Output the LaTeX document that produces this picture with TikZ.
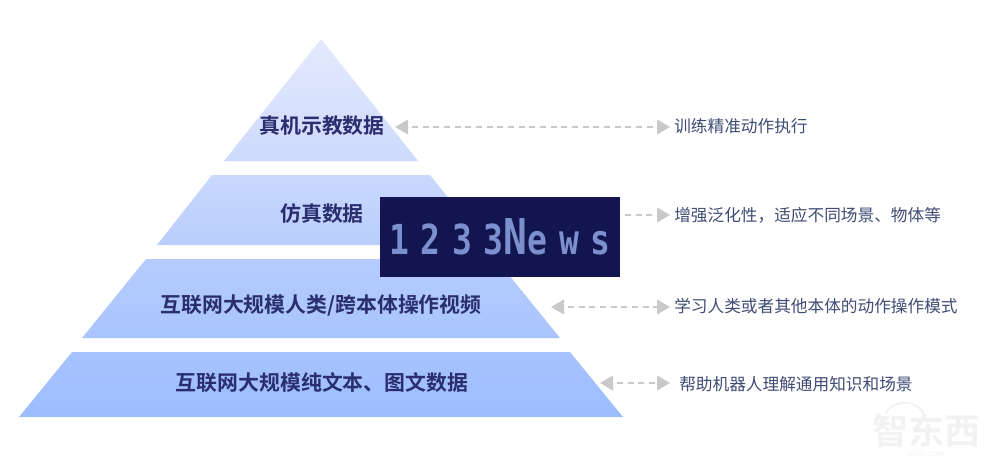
\documentclass[tikz,border=0pt]{standalone}
\usepackage{fontspec}
\usepackage{xcolor}
\usetikzlibrary{arrows.meta,positioning}
\setmainfont{Noto Sans CJK SC}
\newfontfamily\boldcjk{Noto Sans CJK SC Bold}
\newfontfamily\newsfont[FakeStretch=0.8,LetterSpace=28]{DejaVu Sans Mono}
\definecolor{titlecol}{HTML}{2A2E6E}
\definecolor{desccol}{HTML}{3F4C74}
\definecolor{headcol}{HTML}{C9C9C9}
\definecolor{newsback}{HTML}{12154F}
\definecolor{newstext}{HTML}{7B90CC}
\definecolor{tiera}{HTML}{E4E9FD}
\definecolor{tierb}{HTML}{CDDAFD}
\definecolor{tierc}{HTML}{C9D8FD}
\definecolor{tierd}{HTML}{B9CEFC}
\definecolor{tiere}{HTML}{B5CCFD}
\definecolor{tierf}{HTML}{A9C5FE}
\definecolor{tierg}{HTML}{A7C3FE}
\definecolor{tierh}{HTML}{9CBDFE}
\begin{document}
\begin{tikzpicture}[x=0.75pt,y=-0.75pt]
\tikzstyle{title}=[font=\boldcjk\fontsize{15.65pt}{18pt}\selectfont, text=titlecol, inner sep=0pt]
\tikzstyle{desc}=[font=\fontsize{12.5pt}{15pt}\selectfont, text=desccol, anchor=west, inner sep=3pt]
\tikzstyle{connect}=[{Triangle[length=9.75pt,width=11pt]}-{_[sep=3.5pt]Triangle[length=9.75pt,width=11pt]}, draw=headcol, fill=headcol, line width=1.6pt, dash pattern=on 4.6pt off 3.4pt, dash phase=4.6pt]
\tikzstyle{connectr}=[-{_[sep=3.5pt]Triangle[length=9.75pt,width=11pt]}, draw=headcol, fill=headcol, line width=1.6pt, dash pattern=on 4.6pt off 3.4pt]
\tikzstyle{faint}=[text=black!5, inner sep=0pt]
  \useasboundingbox (0,0) rectangle (1000,475);
  % pyramid
  \shade[top color=tiera, bottom color=tierb] (321,39) -- (418,161) -- (224,161) -- cycle;
  \shade[top color=tierc, bottom color=tierd] (212,175) -- (430,175) -- (486,245) -- (157,245) -- cycle;
  \shade[top color=tiere, bottom color=tierf] (146,259) -- (496,259) -- (560,338) -- (82,338) -- cycle;
  \shade[top color=tierg, bottom color=tierh] (72,352) -- (570,352) -- (623,417) -- (19,417) -- cycle;
  % labels
  \node[title] (data1) at (322,126) {真机示教数据};
  \node[title] (data2) at (322,214) {仿真数据};
  \node[title] (data3) at (321,306) {互联网大规模人类/跨本体操作视频};
  \node[title] (data4) at (322,383) {互联网大规模纯文本、图文数据};
  \node[desc] (use1) at (670,126) {训练精准动作执行};
  \node[desc] (use2) at (670,215) {增强泛化性，适应不同场景、物体等};
  \node[desc] (use3) at (670,306) {学习人类或者其他本体的动作操作模式};
  \node[desc, inner xsep=6.75pt] (use4) at (670,384) {帮助机器人理解通用知识和场景};
  \node[fill=newsback, minimum width=180pt, minimum height=60pt, inner sep=0pt, text=newstext] (news) at (500,237)
    {\raisebox{-5pt}{\newsfont\bfseries\fontsize{31pt}{33pt}\selectfont 1233{\fontsize{37pt}{37pt}\selectfont N}ews}};
  % connectors
  \coordinate (left1) at (395,127);
  \coordinate (left3) at (551,307);
  \coordinate (left4) at (600,383);
  \path (left1) edge [connect] (left1 -| use1.west)
        ([xshift=3.5pt]news.east |- use2.west) edge [connectr] (use2.west)
        (left3) edge [connect] (left3 -| use3.west)
        (left4) edge [connect] (left4 -| use4.west);
  % faint logo
  \node[faint, font=\boldcjk\fontsize{27pt}{30pt}\selectfont] (logo) at (926,431) {智东西};
  \node[faint, font=\fontsize{6pt}{7pt}\selectfont, below=1pt of logo] (site) {zhidx.com};
  \coordinate (wifia) at (885,414);
  \draw[black!5, line width=1.5pt] (wifia) arc[start angle=150, end angle=30, radius=17pt];
\end{tikzpicture}
\end{document}
